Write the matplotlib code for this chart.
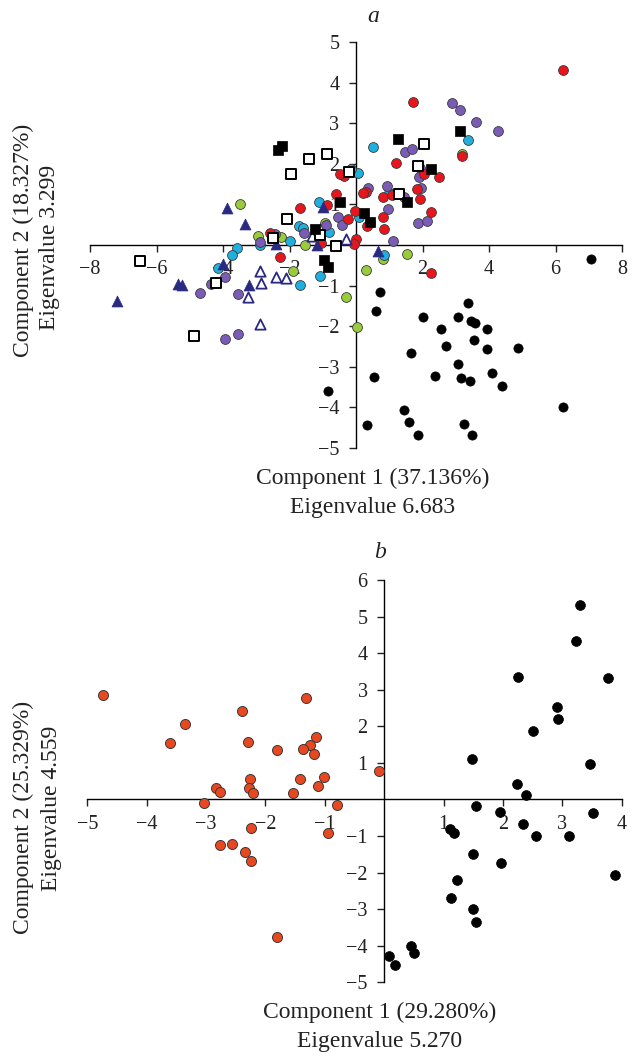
import matplotlib
matplotlib.use("Agg")
import matplotlib.pyplot as plt
import numpy as np

plt.rcParams['font.family'] = ['Liberation Serif', 'DejaVu Serif']

# ---- panel a data ----
red_x = [6.23, 1.72, 1.20, 3.20, 2.50, 2.05, 1.82, 1.92, 0.80, 1.08, 2.25, 0.80, 0.83, 0.33,
         0.30, 0.22, -0.02, -0.25, 0.00, -0.05, -0.37, -0.47, -0.60, -1.68, 2.25, -1.05,
         -0.87, -2.30, -2.60]
red_y = [4.31, 3.53, 2.01, 2.19, 1.68, 1.74, 1.37, 1.13, 1.17, 1.23, 0.82, 0.70, 0.39, 0.48,
         1.31, 1.28, 0.84, 0.63, 0.14, 0.02, 1.70, 1.75, 1.26, 0.90, -0.68, 0.04,
         0.99, -0.29, 0.30]

cyan_x = [0.52, 3.38, 0.05, -0.15, -1.12, -1.72, -1.60, -0.80, 0.08, 0.85, -1.09, -2.00,
          -2.89, -3.57, -3.74, -4.16, -1.69, 1.00]
cyan_y = [2.41, 2.59, 1.77, 1.86, 1.07, 0.48, 0.41, 0.33, 0.70, -0.25, -0.76, 0.11,
          0.01, -0.07, -0.25, -0.56, -0.99, 1.27]

purple_x = [2.90, 3.13, 3.60, 4.28, 1.47, 1.68, 1.93, 1.90, 1.95, 1.45, 0.92, 0.35, 0.95,
            0.43, 1.85, 2.15, 1.10, -0.55, -0.43, -0.90, -1.57, -2.43, -2.90, -3.93,
            -4.35, -4.68, -3.56, -3.56, -3.93]
purple_y = [3.49, 3.33, 3.04, 2.82, 2.28, 2.36, 1.89, 1.67, 1.40, 1.17, 1.45, 1.41, 0.89,
            0.53, 0.53, 0.59, 0.10, 0.70, 0.49, 0.49, 0.30, 0.26, 0.08, -0.78,
            -0.96, -1.19, -1.21, -2.19, -2.32]

green_x = [3.18, -3.50, -2.95, -2.27, -1.54, -0.92, -1.88, -0.31, 0.04, 0.31, 0.82, 1.53]
green_y = [2.25, 1.01, 0.22, 0.19, -0.01, 0.55, -0.64, -1.29, -2.03, -0.62, -0.34, -0.23]

sq_fill_x = [-2.36, -2.24, 1.25, 3.13, 2.25, 1.53, 0.23, 0.43, -0.48, -1.23, -0.95, -0.83]
sq_fill_y = [2.34, 2.44, 2.60, 2.82, 1.87, 1.05, 0.78, 0.56, 1.05, 0.39, -0.36, -0.53]

sq_open_x = [-1.42, -0.87, -1.95, -0.22, 2.05, 1.85, 1.30, -2.08, -2.49, -1.08, -0.61,
             -6.50, -4.20, -4.88]
sq_open_y = [2.11, 2.23, 1.75, 1.81, 2.48, 1.94, 1.26, 0.65, 0.18, 0.24, -0.03,
             -0.40, -0.94, -2.24]

tri_fill_x = [-3.87, -3.33, -2.40, -0.99, -1.18, -4.01, -5.35, -5.23, -3.23, -7.18, 0.67]
tri_fill_y = [0.92, 0.51, 0.02, 0.94, -0.01, -0.47, -0.96, -0.99, -0.99, -1.37, -0.16]

tri_open_x = [-2.88, -2.85, -2.40, -2.10, -3.26, -2.90, -1.32, -0.30]
tri_open_y = [-0.64, -0.94, -0.78, -0.82, -1.27, -1.95, 0.22, 0.14]

black_a_x = [0.73, 0.61, 2.00, 3.07, 3.37, 3.47, 3.59, 3.95, 2.56, 3.54, 2.71, 3.95, 4.86,
             1.64, 3.08, 0.54, 2.39, 3.15, 3.43, 4.10, 4.40, -0.85, 1.43, 1.59, 0.34,
             1.87, 3.26, 3.49, 7.07, 6.22]
black_a_y = [-1.15, -1.63, -1.77, -1.77, -1.44, -1.88, -1.92, -2.06, -2.06, -2.35, -2.48,
             -2.57, -2.53, -2.65, -2.92, -3.25, -3.23, -3.28, -3.35, -3.15, -3.48, -3.60,
             -4.07, -4.37, -4.43, -4.68, -4.41, -4.69, -0.35, -4.00]

# ---- panel b data ----
orange_x = [-4.73, -1.31, -2.39, -3.35, -1.14, -3.60, -2.29, -1.25, -1.80, -1.36, -1.19,
            -2.26, -1.41, -1.02, -2.83, -2.76, -2.28, -2.21, -1.53, -1.12, -3.04, -0.79,
            -2.24, -0.95, -2.76, -2.56, -2.35, -2.25, -1.81, -0.08]
orange_y = [2.86, 2.77, 2.43, 2.05, 1.71, 1.54, 1.57, 1.49, 1.35, 1.39, 1.24,
            0.56, 0.55, 0.62, 0.30, 0.20, 0.30, 0.18, 0.18, 0.36, -0.10, -0.15,
            -0.77, -0.93, -1.24, -1.21, -1.43, -1.69, -3.77, 0.77]

black_b_x = [3.30, 3.23, 2.26, 3.77, 2.91, 2.92, 2.51, 1.48, 3.46, 2.23, 2.39, 1.54, 1.95,
             3.52, 2.34, 1.11, 1.18, 2.56, 3.11, 1.49, 1.96, 3.89, 1.22, 1.13, 1.49,
             1.54, 0.45, 0.51, 0.08, 0.19]
black_b_y = [5.31, 4.34, 3.35, 3.32, 2.52, 2.21, 1.87, 1.11, 0.98, 0.41, 0.11, -0.18, -0.34,
             -0.37, -0.68, -0.80, -0.93, -1.00, -1.01, -1.50, -1.75, -2.06, -2.20, -2.70,
             -3.00, -3.35, -4.01, -4.21, -4.28, -4.53]

W, H = 640, 1058
fig = plt.figure(figsize=(W / 100, H / 100), dpi=100)


def fx(px):
    return px / W


def fy(py):
    return 1 - py / H


def setup_axes(ax, xlim, ylim, xticks, yticks):
    ax.set_xlim(*xlim)
    ax.set_ylim(*ylim)
    for s in ['top', 'right']:
        ax.spines[s].set_visible(False)
    ax.spines['left'].set_position(('data', 0))
    ax.spines['bottom'].set_position(('data', 0))
    ax.spines['left'].set_linewidth(1.0)
    ax.spines['bottom'].set_linewidth(1.0)
    ax.set_xticks(xticks)
    ax.set_yticks(yticks)
    ax.tick_params(direction='out', length=5, width=1.0, labelsize=14.5, colors='#222222')
    ax.tick_params(axis='x', pad=6)
    ax.tick_params(axis='y', pad=7)
    ax.patch.set_alpha(0)


# panel a
ax1 = fig.add_axes([fx(90), fy(448), fx(532), 406 / H])
setup_axes(ax1, (-8, 8), (-5, 5), [-8, -6, -4, -2, 2, 4, 6, 8], [-5, -4, -3, -2, -1, 1, 2, 3, 4, 5])

ec = '#3a3a3a'
ax1.scatter(black_a_x, black_a_y, s=44, c='black', edgecolors='black', lw=0.5, clip_on=False, zorder=3)
ax1.scatter(green_x, green_y, s=50, c='#9acb3c', edgecolors=ec, lw=0.6, clip_on=False, zorder=3)
ax1.scatter(cyan_x, cyan_y, s=50, c='#1fb0e0', edgecolors=ec, lw=0.6, clip_on=False, zorder=3)
ax1.scatter(purple_x, purple_y, s=50, c='#7a5cb6', edgecolors=ec, lw=0.6, clip_on=False, zorder=3)
ax1.scatter(red_x, red_y, s=50, c='#e8161c', edgecolors=ec, lw=0.6, clip_on=False, zorder=3)
ax1.scatter(tri_open_x, tri_open_y, s=55, marker='^', c='white', edgecolors='#2b2a82', lw=1.3,
            clip_on=False, zorder=4)
ax1.scatter(tri_fill_x, tri_fill_y, s=62, marker='^', c='#2b2a82', edgecolors='#2b2a82', lw=0.5,
            clip_on=False, zorder=4)
ax1.scatter(sq_open_x, sq_open_y, s=46, marker='s', c='white', edgecolors='black', lw=1.4,
            clip_on=False, zorder=4)
ax1.scatter(sq_fill_x, sq_fill_y, s=54, marker='s', c='black', edgecolors='black', lw=0.5,
            clip_on=False, zorder=4)

# panel b
ax2 = fig.add_axes([fx(87.3), fy(982.3), fx(534.4), 402.3 / H])
setup_axes(ax2, (-5, 4), (-5, 6), [-5, -4, -3, -2, -1, 1, 2, 3, 4], [-5, -4, -3, -2, -1, 1, 2, 3, 4, 5, 6])
ax2.scatter(orange_x, orange_y, s=52, c='#e8481f', edgecolors='#3a3a3a', lw=0.7, clip_on=False, zorder=3)
ax2.scatter(black_b_x, black_b_y, s=50, c='black', edgecolors='black', lw=0.5, clip_on=False, zorder=3)

# titles and axis labels
tc = '#222222'
lab = 17
fig.text(fx(373), fy(17), 'a', style='italic', fontsize=lab, ha='center', va='center', color=tc)
fig.text(fx(373), fy(478), 'Component 1 (37.136%)', fontsize=lab, ha='center', va='center', color=tc)
fig.text(fx(373), fy(507), 'Eigenvalue 6.683', fontsize=lab, ha='center', va='center', color=tc)
fig.text(fx(23), fy(240), 'Component 2 (18.327%)', fontsize=lab, rotation=90, ha='center', va='center', color=tc)
fig.text(fx(50), fy(247), 'Eigenvalue 3.299', fontsize=lab, rotation=90, ha='center', va='center', color=tc)

fig.text(fx(380), fy(552), 'b', style='italic', fontsize=lab, ha='center', va='center', color=tc)
fig.text(fx(380), fy(1012), 'Component 1 (29.280%)', fontsize=lab, ha='center', va='center', color=tc)
fig.text(fx(380), fy(1041), 'Eigenvalue 5.270', fontsize=lab, ha='center', va='center', color=tc)
fig.text(fx(23), fy(817), 'Component 2 (25.329%)', fontsize=lab, rotation=90, ha='center', va='center', color=tc)
fig.text(fx(52), fy(808), 'Eigenvalue 4.559', fontsize=lab, rotation=90, ha='center', va='center', color=tc)

fig.savefig('out.png', dpi=100)
